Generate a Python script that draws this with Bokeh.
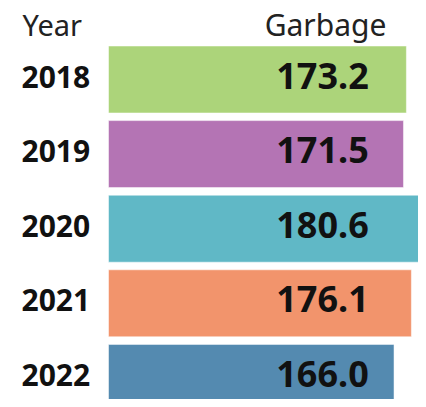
from bokeh.plotting import figure
from bokeh.models import ColumnDataSource, Range1d
from bokeh.core.properties import value
from bokeh.embed import file_html
from bokeh.resources import INLINE

years = ["2018", "2019", "2020", "2021", "2022"]
garbage = [173.2, 171.5, 180.6, 176.1, 166.0]
colors = ["#acd47a", "#b474b4", "#60b8c6", "#f2946c", "#548ab0"]
header_left = "Year"
header_right = "Garbage"

W, H = 418, 399
px_per_unit = 1.72
zero_px = 108
pitch = 74.6
top_val = 79.0 / pitch

pos = [-i for i in range(len(years))]
src = ColumnDataSource(dict(
    y=pos, v=garbage, c=colors, yr=years,
    lab=[f"{g:.1f}" for g in garbage],
    xl=[(21 - zero_px) / px_per_unit] * len(years),
    xv=[(322 - zero_px) / px_per_unit] * len(years),
))

p = figure(width=W, height=H, output_backend="svg", toolbar_location=None,
           x_range=Range1d(-zero_px / px_per_unit, (W - zero_px) / px_per_unit),
           y_range=Range1d(top_val - H / pitch, top_val),
           min_border=0)
p.axis.visible = False
p.grid.visible = False
p.outline_line_color = None
p.background_fill_color = "white"
p.border_fill_color = "white"

p.hbar(y="y", right="v", left=0, height=67 / pitch, fill_color="c",
       line_color="white", line_alpha=0.5, line_width=1, source=src)

p.text(x="xl", y="y", text="yr", source=src, text_font=value("Noto Sans"),
       text_font_style="bold", text_font_size="30px", text_color="#111111",
       text_baseline="middle", text_align="left", y_offset=-3)
p.text(x="xv", y="y", text="lab", source=src, text_font=value("Noto Sans"),
       text_font_style="bold", text_font_size="36px", text_color="#111111",
       text_baseline="middle", text_align="center", y_offset=-4)

hy = top_val - 24 / pitch
p.text(x=[(22 - zero_px) / px_per_unit], y=[hy], text=[header_left],
       text_font=value("Noto Sans"), text_font_size="29px", text_color="#222222",
       text_baseline="middle", text_align="left")
p.text(x=[(325 - zero_px) / px_per_unit], y=[hy], text=[header_right],
       text_font=value("Noto Sans"), text_font_size="30px", text_color="#222222",
       text_baseline="middle", text_align="center")

open("out.html", "w").write(file_html(p, INLINE))
